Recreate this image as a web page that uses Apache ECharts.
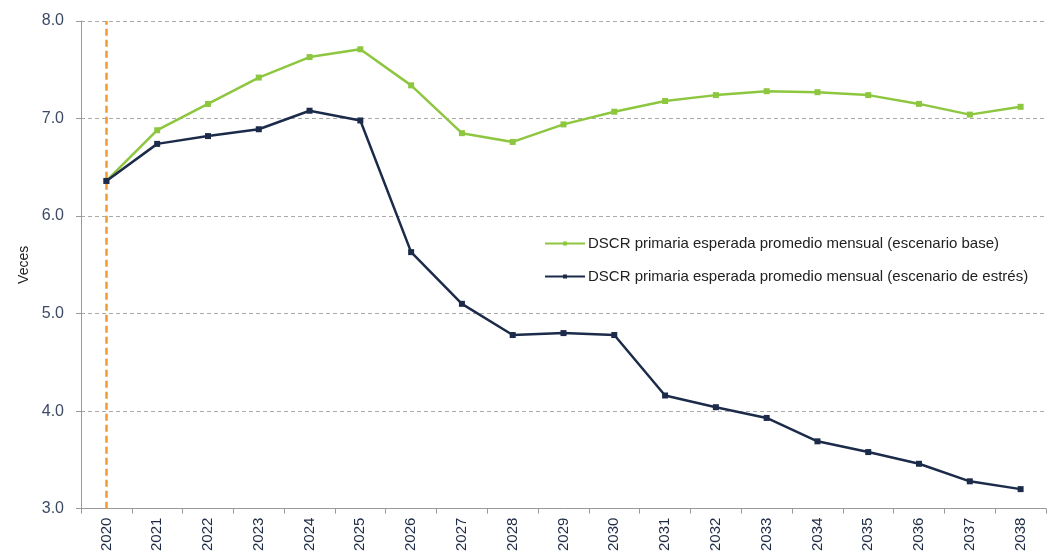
<!DOCTYPE html>
<html>
<head>
<meta charset="utf-8">
<script src="https://cdn.jsdelivr.net/npm/echarts@6/dist/echarts.min.js"></script>
<style>
  html, body { margin: 0; padding: 0; background: #fff; }
  #main { width: 1055px; height: 554px; }
</style>
</head>
<body>
<div id="main"></div>
<script>
var years = ["2020", "2021", "2022", "2023", "2024", "2025", "2026", "2027", "2028", "2029",
  "2030", "2031", "2032", "2033", "2034", "2035", "2036", "2037", "2038"];
var baseValues = [6.36, 6.88, 7.15, 7.42, 7.63, 7.71, 7.34, 6.85, 6.76, 6.94,
  7.07, 7.18, 7.24, 7.28, 7.27, 7.24, 7.15, 7.04, 7.12];
var stressValues = [6.36, 6.74, 6.82, 6.89, 7.08, 6.98, 5.63, 5.10, 4.78, 4.80,
  4.78, 4.16, 4.04, 3.93, 3.69, 3.58, 3.46, 3.28, 3.20];
var baseName = "DSCR primaria esperada promedio mensual (escenario base)";
var stressName = "DSCR primaria esperada promedio mensual (escenario de estrés)";

var chartDom = document.getElementById("main");
var myChart = echarts.init(chartDom);
var font = "'Liberation Sans', Arial, sans-serif";
var option;

option = {
  animation: false,
  textStyle: { fontFamily: font },
  grid: { left: 81, right: 9, top: 21, bottom: 44 },
  legend: {
    orient: "vertical",
    left: 539,
    top: 231,
    itemGap: 18,
    itemWidth: 40,
    itemHeight: 5,
    textStyle: { fontSize: 15, color: "#222", fontFamily: font, padding: [0, 0, 0, -2] },
    data: [baseName, stressName]
  },
  xAxis: {
    type: "category",
    data: years,
    boundaryGap: true,
    axisLine: { lineStyle: { color: "#999", width: 1 } },
    axisTick: { show: true, length: 5, lineStyle: { color: "#999" } },
    axisLabel: { rotate: 90, fontSize: 15, color: "#1e2b45", margin: 9, fontFamily: font }
  },
  yAxis: {
    type: "value",
    min: 3,
    max: 8,
    interval: 1,
    name: "Veces",
    nameLocation: "middle",
    nameRotate: 90,
    nameGap: 50,
    nameTextStyle: { fontSize: 14, color: "#222", fontFamily: font },
    axisLine: { show: true, lineStyle: { color: "#999", width: 1 } },
    axisTick: { show: true, length: 5, lineStyle: { color: "#999" } },
    axisLabel: {
      fontSize: 16,
      color: "#3c4a66",
      margin: 17,
      fontFamily: font,
      formatter: function (v) { return v.toFixed(1); }
    },
    splitLine: { lineStyle: { color: "#aaa", type: [4, 3], width: 1 } }
  },
  series: [
    {
      name: baseName,
      type: "line",
      data: baseValues,
      symbol: "rect",
      symbolSize: 6,
      color: "#8dc63f",
      lineStyle: { width: 2.5, color: "#8dc63f" },
      itemStyle: { color: "#8dc63f" },
      z: 3
    },
    {
      name: stressName,
      type: "line",
      data: stressValues,
      symbol: "rect",
      symbolSize: 6,
      color: "#1c2b4a",
      lineStyle: { width: 2.5, color: "#1c2b4a" },
      itemStyle: { color: "#1c2b4a" },
      z: 4,
      markLine: {
        silent: true,
        symbol: "none",
        label: { show: false },
        lineStyle: { color: "#f39a2e", type: [7, 4], width: 2.5 },
        data: [{ xAxis: "2020" }],
        z: 1
      }
    }
  ]
};

option && myChart.setOption(option);
</script>
</body>
</html>
